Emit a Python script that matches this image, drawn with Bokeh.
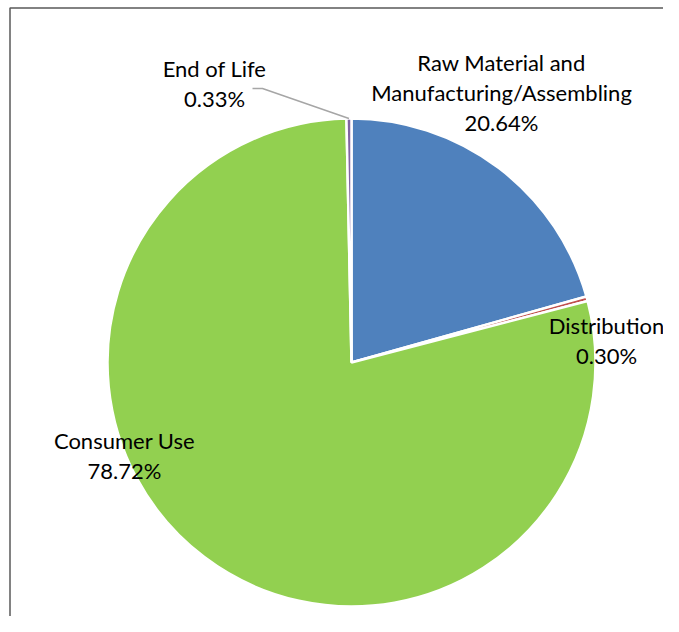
import math
from bokeh.plotting import figure
from bokeh.models import Range1d
from bokeh.core.properties import value
from bokeh.embed import file_html
from bokeh.resources import INLINE

# ---- data ----
categories = ["Raw Material and\nManufacturing/Assembling", "Distribution", "Consumer Use", "End of Life"]
shares = [20.64, 0.30, 78.72, 0.33]
colors = ["#4F81BD", "#C0504D", "#92D050", "#8064A2"]

# ---- layout (page-like coordinates: x right, y up; y_data = 632 - y_page) ----
W, H = 663, 616
cx, cy, R = 351, 270, 244
label_pos = {
    "Raw Material and\nManufacturing/Assembling": (501, 570),
    "Distribution": (606, 307),
    "Consumer Use": (124, 192),
    "End of Life": (214, 564),
}
line_gap = 30
font = value("Lato")
fsize = "22px"

p = figure(width=W, height=H, output_backend="svg", toolbar_location=None,
           x_range=Range1d(0, W), y_range=Range1d(632 - H, 632),
           min_border=0, outline_line_color=None,
           background_fill_color=None, border_fill_color=None)
p.axis.visible = False
p.grid.visible = False

total = sum(shares)
starts, ends = [], []
cum = 0.0
for s in shares:
    a0 = math.pi / 2 - 2 * math.pi * cum / total
    cum += s
    a1 = math.pi / 2 - 2 * math.pi * cum / total
    starts.append(a0)
    ends.append(a1)

p.wedge(x=[cx] * len(shares), y=[cy] * len(shares), radius=R,
        start_angle=starts, end_angle=ends, direction="clock",
        fill_color=colors, line_color="white", line_width=2.5)

# leader line for End of Life (from label to slice midpoint on rim)
mid_eol = (starts[3] + ends[3]) / 2
ex, ey = cx + R * math.cos(mid_eol), cy + R * math.sin(mid_eol)
lx, ly = label_pos["End of Life"]
p.line(x=[lx + 38, lx + 48, ex], y=[ly - 20, ly - 20, ey],
       line_color="#A6A6A6", line_width=1.5)

# labels
for name, s in zip(categories, shares):
    lines = name.split("\n") + [f"{s:.2f}%"]
    x0, y0 = label_pos[name]
    for i, t in enumerate(lines):
        p.text(x=[x0], y=[y0 - i * line_gap], text=[t], text_align="center",
               text_baseline="middle", text_font=font, text_font_size=fsize,
               text_color="#000000")

# chart-area frame (only top and left edges visible in the crop)
p.line(x=[9.5, 9.5, W + 10], y=[632 - H - 10, 624.5, 624.5],
       line_color="#595959", line_width=1.5)

open("out.html", "w").write(file_html(p, INLINE))
